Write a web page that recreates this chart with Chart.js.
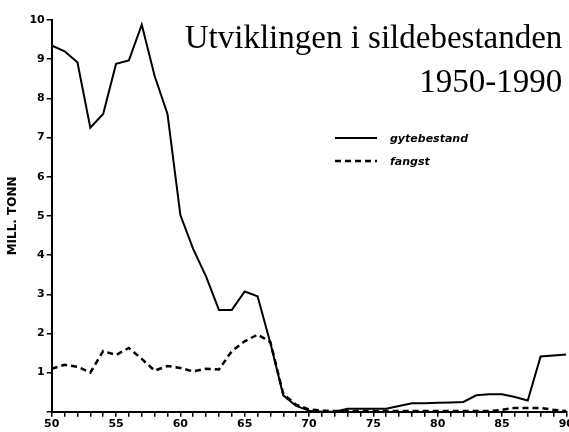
<!DOCTYPE html>
<html>
<head>
<meta charset="utf-8">
<script src="https://cdn.jsdelivr.net/npm/chart.js@4.4.1/dist/chart.umd.min.js"></script>
<style>
  html, body { margin:0; padding:0; background:#fff; overflow:hidden; }
  #wrap { position:absolute; left:0; top:0; width:575px; height:432px; }
</style>
</head>
<body>
<div id="wrap"><canvas id="chart"></canvas></div>
<script>
// data (mill. tonn)
const years = [50,51,52,53,54,55,56,57,58,59,60,61,62,63,64,65,66,67,68,69,70,
               71,72,73,74,75,76,77,78,79,80,81,82,83,84,85,86,87,88,89,90];
const gytebestand = [9.35,9.2,8.92,7.25,7.6,8.88,8.97,9.88,8.57,7.6,5.02,4.15,3.45,2.6,2.6,3.07,2.95,1.75,0.42,0.15,0.03,
                     0,0,0.08,0.08,0.08,0.08,0.15,0.22,0.22,0.23,0.24,0.25,0.42,0.45,0.45,0.38,0.29,1.41,1.44,1.46];
const fangst = [1.1,1.2,1.15,1.0,1.55,1.45,1.63,1.35,1.05,1.17,1.12,1.03,1.1,1.08,1.55,1.8,1.97,1.78,0.45,0.18,0.06,
                0.03,0.02,0.02,0.02,0.02,0.02,0.02,0.02,0.02,0.02,0.02,0.02,0.02,0.02,0.05,0.1,0.1,0.1,0.05,0.02];
const xTicks = [50,55,60,65,70,75,80,85,90];
const yTicks = [1,2,3,4,5,6,7,8,9,10];
const seriesNames = ['gytebestand','fangst'];
const titleLines = ['Utviklingen i sildebestanden','1950-1990'];
const yTitle = 'MILL. TONN';

const tickFont = { family:'DejaVu Sans', size:11, weight:'bold' };

// title + legend are drawn inside the plot area like in the original
const overlay = {
  id:'overlay',
  afterDraw(chart){
    const ctx = chart.ctx, a = chart.chartArea;
    ctx.save();
    ctx.fillStyle = '#000';
    ctx.font = '33px "Liberation Serif"';
    ctx.textAlign = 'right';
    ctx.textBaseline = 'alphabetic';
    ctx.fillText(titleLines[0], a.right - 4, 48);
    ctx.fillText(titleLines[1], a.right - 4, 92);

    const lx0 = 335, lx1 = 377, rows = [138, 161];
    ctx.font = 'italic bold 11px "DejaVu Sans"';
    ctx.textAlign = 'left';
    ctx.textBaseline = 'middle';
    seriesNames.forEach((name, i)=>{
      const ds = chart.data.datasets[i];
      ctx.strokeStyle = '#000';
      ctx.lineWidth = ds.borderWidth;
      ctx.setLineDash(ds.borderDash || []);
      ctx.beginPath(); ctx.moveTo(lx0, rows[i]); ctx.lineTo(lx1, rows[i]); ctx.stroke();
      ctx.fillText(name, 390, rows[i] + 1);
    });
    ctx.restore();
  }
};

new Chart(document.getElementById('chart'), {
  type:'line',
  data:{
    datasets:[
      { label:seriesNames[0], data:years.map((y,i)=>({x:y, y:gytebestand[i]})),
        borderColor:'#000', borderWidth:2, pointRadius:0, tension:0, fill:false },
      { label:seriesNames[1], data:years.map((y,i)=>({x:y, y:fangst[i]})),
        borderColor:'#000', borderWidth:2.5, borderDash:[6,4], pointRadius:0, tension:0, fill:false }
    ]
  },
  options:{
    responsive:true, maintainAspectRatio:false, animation:false,
    layout:{ padding:{ top:20, left:6, right:0, bottom:0 } },
    plugins:{ legend:{ display:false }, tooltip:{ enabled:false } },
    scales:{
      x:{
        type:'linear', min:50, max:90,
        afterBuildTicks: s => { s.ticks = years.map(v=>({value:v})); },
        ticks:{ autoSkip:false, maxRotation:0, color:'#000', font:tickFont, padding:1,
                callback: v => xTicks.includes(v) ? String(v) : '' },
        grid:{ drawOnChartArea:false, drawTicks:true, tickLength:5, color:'#000', lineWidth:1.5 },
        border:{ color:'#000', width:2 }
      },
      y:{
        min:0, max:10,
        afterBuildTicks: s => { s.ticks = [0].concat(yTicks).map(v=>({value:v})); },
        ticks:{ color:'#000', font:tickFont, padding:2,
                callback: v => yTicks.includes(v) ? String(v) : '' },
        grid:{ drawOnChartArea:false, drawTicks:true, tickLength:5, color:'#000', lineWidth:1.5 },
        border:{ color:'#000', width:2 },
        title:{ display:true, text:yTitle, color:'#000', padding:{ top:0, bottom:7 },
                font:{ family:'DejaVu Sans', size:12, weight:'bold' } }
      }
    }
  },
  plugins:[overlay]
});
</script>
</body>
</html>
